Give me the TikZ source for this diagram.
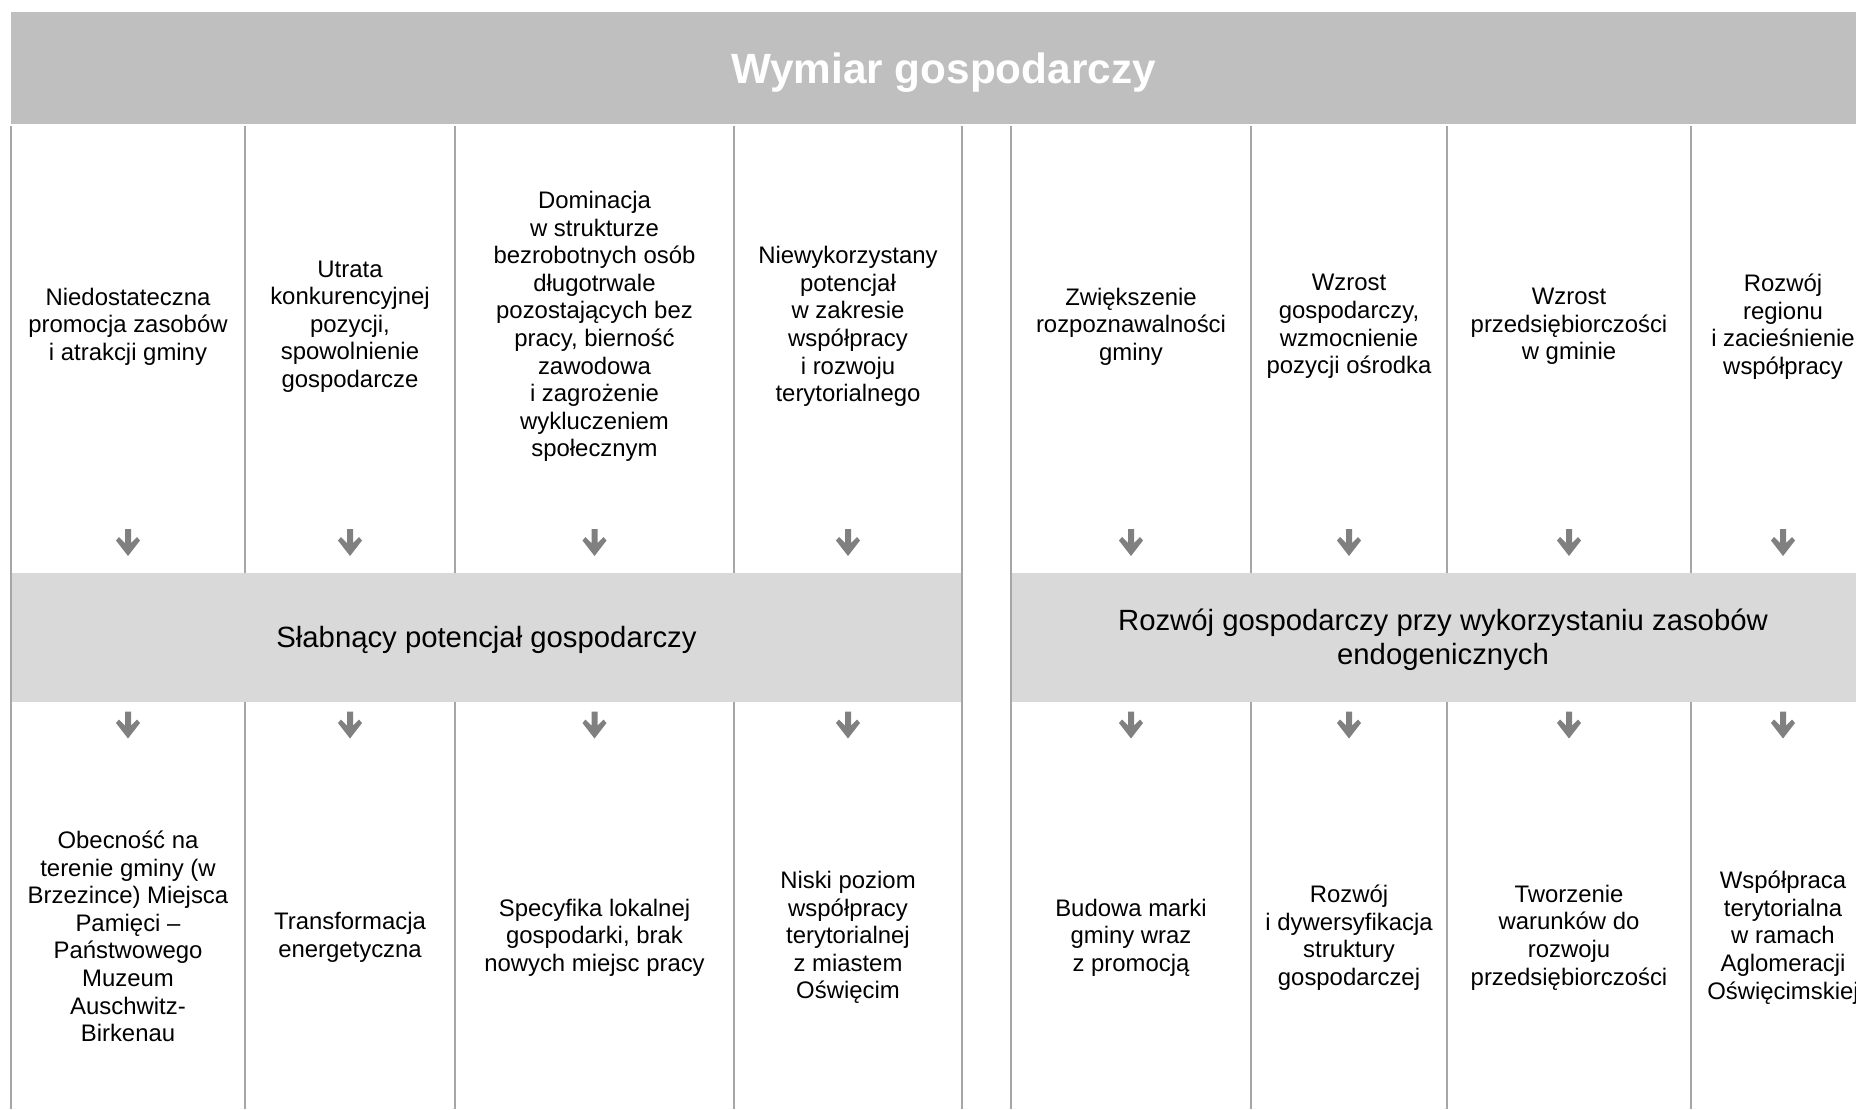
\documentclass[tikz,border=0pt]{standalone}
\usepackage{fontspec}
\setmainfont{Liberation Sans}
\definecolor{hdrgray}{HTML}{BFBFBF}
\definecolor{bandgray}{HTML}{D9D9D9}
\definecolor{linegray}{HTML}{A6A6A6}
\definecolor{arrowgray}{HTML}{808080}
\begin{document}
\begin{tikzpicture}[x=1pt,y=-1pt,
  celltext/.style={align=center,inner sep=0pt,font=\fontsize{23.9}{27.6}\selectfont,text=black},
  bandtext/.style={align=center,inner sep=0pt,font=\fontsize{29.3}{34}\selectfont,text=black},
  titletext/.style={inner sep=0pt,font=\fontsize{42.3}{50}\selectfont\bfseries,text=white},
  hdrbox/.style={draw=none,fill=hdrgray,inner sep=0pt},
  bandbox/.style={draw=none,fill=bandgray,inner sep=0pt},
  divline/.style={draw=linegray,line width=2pt},
  darr/.pic={\fill[arrowgray] (-3,0) -- (3,0) -- (3,14) -- (9,8) -- (12,11.5) -- (0,27) -- (-12,11.5) -- (-9,8) -- (-3,14) -- cycle;}
]
\useasboundingbox (0,0) rectangle (1856,1109);
\clip (0,0) rectangle (1856,1109);
\fill[white] (0,0) rectangle (1856,1109);

% column dividers
\foreach \xx in {11,245,455,734,962,1011,1251,1447,1691,1875}
  \draw[divline] (\xx,126) -- (\xx,1109);

% header
\node[hdrbox,minimum width=1864pt,minimum height=112.5pt] (hdr) at (943,67.75) {};
\node[titletext,anchor=base] (title) at (943.5,83.3) {Wymiar gospodarczy};

% bands
\node[bandbox,minimum width=951pt,minimum height=129pt] (bandL) at (486.5,637.5) {};
\node[bandbox,minimum width=864pt,minimum height=129pt] (bandR) at (1443,637.5) {};
\foreach \xx in {11,962,1011,1875}
  \draw[divline] (\xx,560) -- (\xx,715);
\node[bandtext,anchor=base] (bandLt) at (486.5,647) {Słabnący potencjał gospodarczy};
\node[bandtext] (bandRt) at (1443,639.4) {Rozwój gospodarczy przy wykorzystaniu zasobów\\endogenicznych};

% top row
\node[celltext] (t1) at (128,326.5) {Niedostateczna\\promocja zasobów\\i atrakcji gminy};
\node[celltext] (t2) at (350,326.5) {Utrata\\konkurencyjnej\\pozycji,\\spowolnienie\\gospodarcze};
\node[celltext] (t3) at (594.5,326.5) {Dominacja\\w strukturze\\bezrobotnych osób\\długotrwale\\pozostających bez\\pracy, bierność\\zawodowa\\i zagrożenie\\wykluczeniem\\społecznym};
\node[celltext] (t4) at (848,326.5) {Niewykorzystany\\potencjał\\w zakresie\\współpracy\\i rozwoju\\terytorialnego};
\node[celltext] (t5) at (1131,326.5) {Zwiększenie\\rozpoznawalności\\gminy};
\node[celltext] (t6) at (1349,326.5) {Wzrost\\gospodarczy,\\wzmocnienie\\pozycji ośrodka};
\node[celltext] (t7) at (1569,326.5) {Wzrost\\przedsiębiorczości\\w gminie};
\node[celltext] (t8) at (1783,326.5) {Rozwój\\regionu\\i zacieśnienie\\współpracy};

% bottom row
\node[celltext] (b1) at (128,936.5) {Obecność na\\terenie gminy (w\\Brzezince) Miejsca\\Pamięci –\\Państwowego\\Muzeum\\Auschwitz-\\Birkenau};
\node[celltext] (b2) at (350,937.5) {Transformacja\\energetyczna};
\node[celltext] (b3) at (594.5,937.5) {Specyfika lokalnej\\gospodarki, brak\\nowych miejsc pracy};
\node[celltext] (b4) at (848,937.5) {Niski poziom\\współpracy\\terytorialnej\\z miastem\\Oświęcim};
\node[celltext] (b5) at (1131,937.5) {Budowa marki\\gminy wraz\\z promocją};
\node[celltext] (b6) at (1349,937.5) {Rozwój\\i dywersyfikacja\\struktury\\gospodarczej};
\node[celltext] (b7) at (1569,937.5) {Tworzenie\\warunków do\\rozwoju\\przedsiębiorczości};
\node[celltext] (b8) at (1783,937.5) {Współpraca\\terytorialna\\w ramach\\Aglomeracji\\Oświęcimskiej};

% arrows
\foreach \xx in {128,350,594.5,848,1131,1349,1569,1783} {
  \pic at (\xx,529) {darr};
  \pic at (\xx,711.5) {darr};
}
\end{tikzpicture}
\end{document}
